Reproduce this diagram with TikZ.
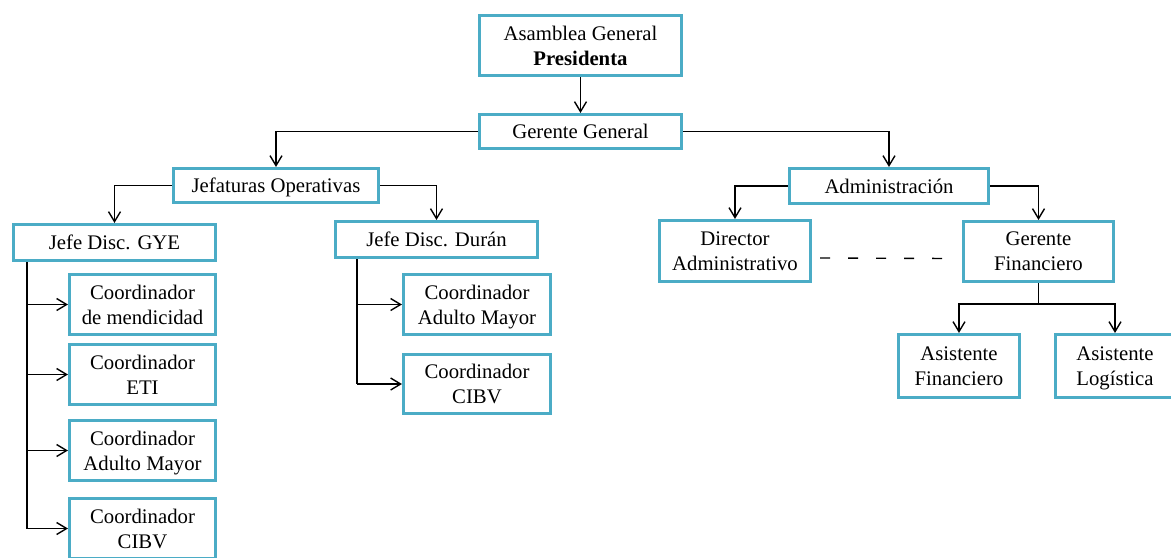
\documentclass[tikz,border=0pt]{standalone}
\usepackage{fontspec}
\setmainfont{Liberation Serif}
\usetikzlibrary{arrows.meta}
\definecolor{celeste}{HTML}{4BACC6}
\begin{document}
\begin{tikzpicture}[
    x=0.03cm, y=-0.03cm,
    font=\fontsize{17.7}{21.3}\selectfont,
    caja/.style={draw=celeste, line width=2.6pt, fill=white, align=center, inner sep=0pt,
                 text depth=0pt},
    tam/.style 2 args={minimum width=#1*0.03cm, minimum height=#2*0.03cm},
    linea/.style={black, line width=1.2pt},
    flecha/.style={linea, -{Straight Barb[length=0.3cm, width=0.36cm]}},
  ]

  % ---- area del dibujo (pixel: 1171 x 557) -----------------------------------
  \useasboundingbox (0,0) rectangle (1171,557);

  % ---- direccion -------------------------------------------------------------
  \node[caja, tam={202}{60}] (asam) at (580.5,45.5)  {Asamblea General\\\textbf{Presidenta}};
  \node[caja, tam={202}{34}] (gg)   at (580.5,131.5) {Gerente General};
  \node[caja, tam={205}{34}] (jef)  at (276,185.5)   {Jefaturas Operativas};
  \node[caja, tam={199}{35}] (adm)  at (889,186)     {Administración};

  % ---- rama operativa --------------------------------------------------------
  \node[caja, tam={202}{36}] (gye)  at (114.5,242.5) {Jefe Disc. GYE};
  \node[caja, tam={202}{36}] (dur)  at (436.5,239.5) {Jefe Disc. Durán};

  \node[caja, tam={146}{60}] (cmen) at (142.5,304.5) {Coordinador\\de mendicidad};
  \node[caja, tam={146}{60}] (ceti) at (142.5,374.5) {Coordinador\\ETI};
  \node[caja, tam={146}{60}] (cam1) at (142.5,450.5) {Coordinador\\Adulto Mayor};
  \node[caja, tam={146}{60}] (cib1) at (142.5,528.5) {Coordinador\\CIBV};

  \node[caja, tam={147}{60}] (cam2) at (477,304.5)   {Coordinador\\Adulto Mayor};
  \node[caja, tam={147}{59}] (cib2) at (477,384)     {Coordinador\\CIBV};

  % ---- rama administrativa ---------------------------------------------------
  \node[caja, tam={151}{61}] (dir)  at (735,251)     {Director\\Administrativo};
  \node[caja, tam={150}{60}] (gf)   at (1038.5,251.5) {Gerente\\Financiero};
  \node[caja, tam={121}{63}] (af)   at (959,366)     {Asistente\\Financiero};
  \node[caja, tam={119}{63}] (al)   at (1115,366)    {Asistente\\Logística};

  % ---- conectores ------------------------------------------------------------
  \draw[flecha] (asam) -- (gg);
  \draw[flecha] (gg.west) -| (jef.north);
  \draw[flecha] (gg.east) -| (adm.north);
  \draw[flecha] (jef.west) -| (gye.north);
  \draw[flecha] (jef.east) -| (dur.north);
  \draw[flecha] (adm.west) -| (dir.north);
  \draw[flecha] (adm.east) -| (gf.north);

  % tronco de GYE
  \draw[linea] (gye.south west) ++(15,0) coordinate (tg) -- (tg |- cib1.west);
  \foreach \c in {cmen,ceti,cam1,cib1}
    \draw[flecha] (tg |- \c.west) -- (\c.west);

  % tronco de Duran
  \draw[linea] (dur.south west) ++(23,0) coordinate (td) -- (td |- cib2.west);
  \foreach \c in {cam2,cib2}
    \draw[flecha] (td |- \c.west) -- (\c.west);

  % gerente financiero -> asistentes
  \draw[linea] (gf.south) -- ++(0,21) coordinate (gfb);
  \draw[flecha] (gfb) -| (af.north);
  \draw[flecha] (gfb) -| (al.north);

  % relacion de coordinacion
  \draw[linea, dash pattern=on 0.3cm off 0.54cm] ([shift={(8,7)}]dir.east) -- ([shift={(-15,7)}]gf.west);

\end{tikzpicture}
\end{document}
